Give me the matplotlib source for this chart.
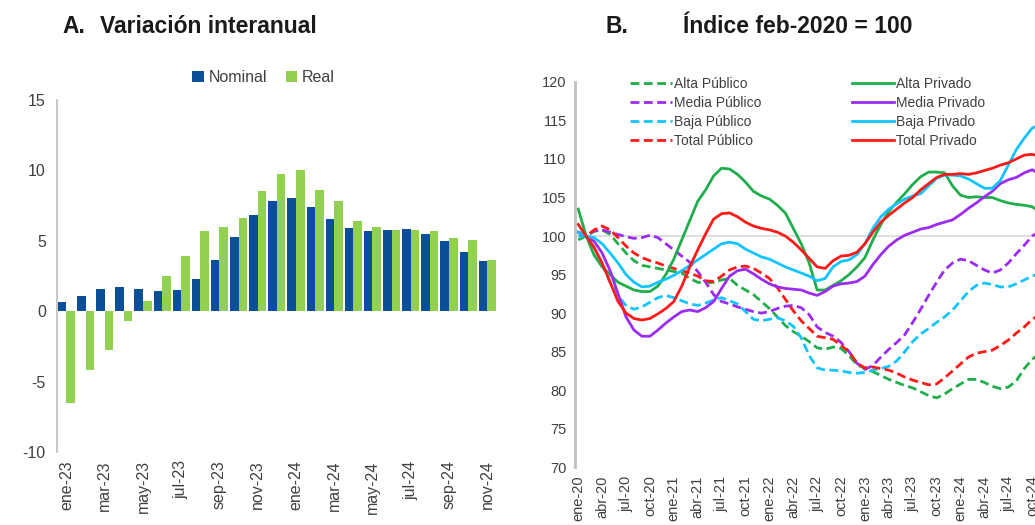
import numpy as np
import matplotlib
matplotlib.use("Agg")
import matplotlib.pyplot as plt

plt.rcParams['font.family'] = ['Liberation Sans', 'DejaVu Sans']
plt.rcParams['axes.unicode_minus'] = False

# ---- Panel A data: variación interanual (%) ----
meses_a = ['ene-23', 'feb-23', 'mar-23', 'abr-23', 'may-23', 'jun-23', 'jul-23', 'ago-23',
           'sep-23', 'oct-23', 'nov-23', 'dic-23', 'ene-24', 'feb-24', 'mar-24', 'abr-24',
           'may-24', 'jun-24', 'jul-24', 'ago-24', 'sep-24', 'oct-24', 'nov-24']
nominal = [0.67, 1.1, 1.57, 1.74, 1.6, 1.43, 1.52, 2.26, 3.6, 5.24, 6.8, 7.8,
           8.0, 7.4, 6.55, 5.9, 5.67, 5.76, 5.8, 5.5, 5.0, 4.2, 3.57]
real = [-6.55, -4.17, -2.74, -0.67, 0.71, 2.48, 3.9, 5.69, 5.98, 6.6, 8.55, 9.7,
        9.98, 8.6, 7.8, 6.4, 6.0, 5.74, 5.74, 5.7, 5.2, 5.07, 3.64]

# ---- Panel B data: índice feb-2020 = 100, mensual ene-20 .. nov-24 ----
tick_labels_b = ['ene-20', 'abr-20', 'jul-20', 'oct-20', 'ene-21', 'abr-21', 'jul-21', 'oct-21',
                 'ene-22', 'abr-22', 'jul-22', 'oct-22', 'ene-23', 'abr-23', 'jul-23', 'oct-23',
                 'ene-24', 'abr-24', 'jul-24', 'oct-24']

alta_pub = [99.5, 100, 100.6, 100.8, 100.2, 99, 97.8, 96.8, 96.2, 96, 95.8, 95.6, 95.4, 95.2, 94.5,
            94, 93.9, 94, 94.3, 94.5, 93.6, 93, 92.4, 91.5, 90.6, 89.5, 88.4, 87.6, 87, 86.3,
            85.5, 85.3, 85.6, 85.4, 84.5, 83.3, 82.8, 82.4, 81.9, 81.4, 81, 80.6, 80.3, 79.8, 79.3,
            79, 79.5, 80.2, 80.8, 81.4, 81.4, 81, 80.5, 80.2, 80.4, 81.2, 82.8, 84, 84.8]
media_pub = [100.5, 100, 100.7, 100.8, 100.5, 100.2, 99.9, 99.7, 99.8, 100.1, 99.8, 99, 98.2, 97.4, 96.6,
             95.4, 94, 92.4, 91.5, 91.2, 90.8, 90.5, 90.2, 90, 90.2, 90.6, 90.9, 91, 90.7, 89.8,
             88.2, 87.5, 87, 86.2, 85, 83.5, 82.7, 83.2, 84.3, 85.3, 86.2, 87.2, 88.8, 90.5, 92.3,
             94, 95.6, 96.5, 97, 96.8, 96.2, 95.6, 95.2, 95.6, 96.5, 97.7, 98.8, 100, 100.6]
baja_pub = [100, 100, 98.5, 96.3, 94, 92.2, 91, 90.5, 90.8, 91.4, 92, 92.3, 92, 91.6, 91.2,
            91, 91.3, 91.7, 92, 91.6, 91.2, 90.2, 89.2, 89, 89.2, 89.4, 89, 88.3, 86.8, 84.5,
            82.9, 82.6, 82.6, 82.5, 82.3, 82.2, 82.3, 82.6, 82.8, 83.1, 83.8, 85, 86.3, 87.3, 88,
            88.8, 89.5, 90.4, 91.6, 92.8, 93.6, 93.9, 93.7, 93.4, 93.4, 93.8, 94.3, 94.8, 95.2]
total_pub = [100.5, 100, 100.8, 101.3, 100.8, 99.8, 98.7, 97.8, 97.2, 96.8, 96.5, 96.1, 95.8, 95.5, 95.2,
             94.8, 94.2, 94.1, 94.8, 95.6, 96, 96.1, 95.8, 95.2, 94.5, 93.3, 91.8, 90.3, 89, 88,
             87, 86.8, 86.6, 85.8, 85, 83.5, 82.9, 83, 82.8, 82.6, 82.2, 81.7, 81.3, 81, 80.7,
             80.8, 81.6, 82.5, 83.4, 84.3, 84.8, 85, 85.2, 85.8, 86.5, 87.4, 88.2, 89.2, 89.8]
alta_priv = [103.5, 100, 97.5, 96, 95, 94, 93.5, 93, 92.8, 92.8, 93.5, 95, 97, 99.5, 102,
             104.5, 106, 107.8, 108.8, 108.7, 108, 107, 105.8, 105.2, 104.8, 104, 103, 101, 99, 96.5,
             93, 93, 93.6, 94.2, 95, 96, 97.2, 99.5, 101.5, 103.2, 104.4, 105.5, 106.7, 107.7, 108.3,
             108.3, 108.2, 106.5, 105.3, 105, 105.1, 105, 105, 104.6, 104.3, 104.1, 104, 103.8, 103.1]
media_priv = [100.5, 100, 99.3, 97.8, 95.5, 92.5, 89.5, 87.8, 87, 87, 87.8, 88.7, 89.5, 90.2, 90.4,
              90.2, 90.7, 91.5, 93.2, 94.8, 95.5, 95.7, 95.1, 94.4, 93.8, 93.4, 93.2, 93.1, 93, 92.6,
              92.3, 92.8, 93.5, 93.8, 93.9, 94.1, 94.8, 96.3, 97.6, 98.7, 99.5, 100.1, 100.5, 100.9, 101.1,
              101.5, 101.8, 102.1, 102.8, 103.6, 104.3, 105.1, 105.8, 106.8, 107.3, 107.6, 108.2, 108.6, 108]
baja_priv = [100.5, 100, 99.8, 99, 97.8, 96.5, 95, 94, 93.4, 93.5, 94, 94.4, 94.9, 95.5, 96.2,
             96.9, 97.6, 98.3, 99, 99.2, 99, 98.3, 97.8, 97.3, 97, 96.5, 96, 95.6, 95.2, 94.8,
             94.2, 94.5, 96, 96.7, 96.9, 97.6, 99, 101, 102.5, 103.5, 104.2, 104.8, 105.2, 105.5, 106.5,
             107.5, 107.9, 107.9, 107.8, 107.4, 106.8, 106.2, 106.2, 107.2, 109.2, 111.2, 112.7, 114, 114.5]
total_priv = [101.5, 100, 98.5, 96.5, 94, 91.5, 90, 89.3, 89.1, 89.3, 89.9, 90.6, 91.5, 93.5, 96,
              98.2, 100.3, 102.2, 102.9, 103, 102.5, 101.8, 101.3, 101, 100.8, 100.5, 100, 99.2, 98.2, 97.1,
              96, 95.8, 96.8, 97.4, 97.5, 97.9, 99, 100.5, 101.8, 102.7, 103.5, 104.3, 105, 106, 106.8,
              107.6, 108, 108, 108.1, 108, 108.2, 108.5, 108.8, 109.2, 109.5, 110, 110.5, 110.6, 110.3]

c_green = '#1fae4b'
c_purple = '#9b2cf0'
c_cyan = '#12c4ff'
c_red = '#ff1a1a'
txt = '#404040'
title_kw = dict(fontsize=16.5, fontweight='bold', color='#1a1a1a', va='center')

fig = plt.figure(figsize=(10.35, 5.25), dpi=100)

# ---------------- Panel A ----------------
ax1 = fig.add_axes([0.055, 0.139, 0.425, 0.671])
x = np.arange(len(meses_a))
w = 0.45
ax1.bar(x - w / 2, nominal, width=w, color='#0a4f98', label='Nominal')
ax1.bar(x + w / 2, real, width=w, color='#92d050', label='Real')
ax1.set_xlim(-0.5, len(meses_a) - 0.5)
ax1.set_ylim(-10, 15)
ax1.set_yticks([-10, -5, 0, 5, 10, 15])
ax1.set_xticks(x[::2])
ax1.set_xticklabels(meses_a[::2], rotation=90)
for s in ['top', 'right', 'bottom']:
    ax1.spines[s].set_visible(False)
ax1.spines['left'].set_color('#bfbfbf')
ax1.spines['left'].set_linewidth(1.2)
ax1.tick_params(length=0, labelsize=11.5, colors=txt, pad=8)
ax1.tick_params(axis='x', pad=6)
ax1.legend(loc='lower center', bbox_to_anchor=(0.47, 1.0), ncol=2, frameon=False,
           fontsize=11.5, handlelength=0.7, handleheight=0.7, handletextpad=0.3,
           columnspacing=1.2, labelcolor=txt)
fig.text(0.060, 0.950, 'A.', **title_kw)
fig.text(0.097, 0.950, 'Variación interanual', **title_kw)

# ---------------- Panel B ----------------
ax2 = fig.add_axes([0.5556, 0.110, 0.454, 0.734])
m = np.arange(len(alta_pub))
dash = (0, (3.2, 1.6))
lw = 2.0
ax2.axhline(100, color='#d9d9d9', lw=1.2, zorder=0)
ax2.plot(m, alta_pub, color=c_green, lw=lw, ls=dash, label='Alta Público')
ax2.plot(m, media_pub, color=c_purple, lw=lw, ls=dash, label='Media Público')
ax2.plot(m, baja_pub, color=c_cyan, lw=lw, ls=dash, label='Baja Público')
ax2.plot(m, total_pub, color=c_red, lw=lw, ls=dash, label='Total Público')
ax2.plot(m, alta_priv, color=c_green, lw=lw, label='Alta Privado')
ax2.plot(m, media_priv, color=c_purple, lw=lw, label='Media Privado')
ax2.plot(m, baja_priv, color=c_cyan, lw=lw, label='Baja Privado')
ax2.plot(m, total_priv, color=c_red, lw=lw, label='Total Privado')
ax2.set_xlim(-0.4, 58.6)
ax2.set_ylim(70, 120)
ax2.set_yticks(range(70, 121, 5))
ax2.set_xticks(m[::3][:len(tick_labels_b)])
ax2.set_xticklabels(tick_labels_b, rotation=90)
for s in ['top', 'right', 'bottom']:
    ax2.spines[s].set_visible(False)
ax2.spines['left'].set_color('#bfbfbf')
ax2.spines['left'].set_linewidth(2)
ax2.tick_params(length=0, labelsize=10.5, colors=txt, pad=6)
ax2.tick_params(axis='x', pad=6)
ax2.legend(loc='upper left', bbox_to_anchor=(0.09, 1.045), ncol=2, frameon=False,
           fontsize=10, handlelength=3.0, handletextpad=0.2, columnspacing=6.5,
           labelspacing=0.35, labelcolor=txt)
fig.text(0.585, 0.950, 'B.', **title_kw)
fig.text(0.660, 0.950, 'Índice feb-2020 = 100', **title_kw)

fig.savefig('out.png', dpi=100)
